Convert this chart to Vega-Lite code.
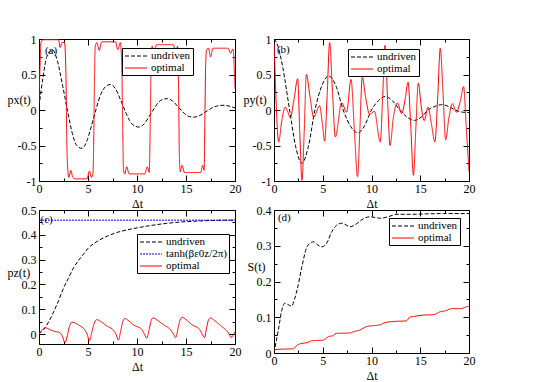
{
"$schema": "https://vega.github.io/schema/vega-lite/v6.json",
"background": "white",
"padding": {"left": 7, "top": 33, "right": 5, "bottom": 2},
"columns": 2,
"spacing": {"row": 29, "column": 39},
"bounds": "flush",
"resolve": {"scale": {"color": "independent", "strokeDash": "independent"}, "legend": {"color": "independent", "strokeDash": "independent"}},
"config": {
  "font": "Liberation Serif",
  "view": {"stroke": null},
  "axis": {"grid": false, "domainColor": "#000", "tickColor": "#000", "labelColor": "#000", "titleColor": "#000", "labelFont": "Liberation Serif", "titleFont": "Liberation Serif", "labelFontSize": 12, "titleFontSize": 12, "titleFontWeight": "normal", "domainWidth": 1, "tickWidth": 1, "labelOverlap": false, "labelFlush": false},
  "legend": {"strokeColor": "#000", "fillColor": "#fff", "padding": 2, "labelFont": "Liberation Serif", "labelFontSize": 11, "labelColor": "#000", "symbolType": "M-2,0H2", "symbolSize": 121, "symbolOffset": 6, "symbolStrokeWidth": 1, "rowPadding": 1, "labelOffset": 9, "cornerRadius": 0},
  "text": {"font": "Liberation Serif", "fontSize": 11, "color": "#000", "align": "left", "baseline": "middle"}
},
"datasets": {
"A": [
{"s":"undriven","t":0,"v":0.05},{"s":"undriven","t":0.4,"v":0.45},{"s":"undriven","t":0.8,"v":0.75},{"s":"undriven","t":1.35,"v":0.85},{"s":"undriven","t":1.9,"v":0.68},{"s":"undriven","t":2.4,"v":0.35},{"s":"undriven","t":2.9,"v":0.0},{"s":"undriven","t":3.4,"v":-0.33},{"s":"undriven","t":3.85,"v":-0.5},{"s":"undriven","t":4.35,"v":-0.54},{"s":"undriven","t":4.85,"v":-0.45},{"s":"undriven","t":5.3,"v":-0.25},{"s":"undriven","t":5.8,"v":0.0},{"s":"undriven","t":6.3,"v":0.22},{"s":"undriven","t":6.8,"v":0.33},{"s":"undriven","t":7.3,"v":0.36},{"s":"undriven","t":7.8,"v":0.3},{"s":"undriven","t":8.3,"v":0.15},{"s":"undriven","t":8.75,"v":0.0},{"s":"undriven","t":9.25,"v":-0.15},{"s":"undriven","t":9.7,"v":-0.22},{"s":"undriven","t":10.2,"v":-0.24},{"s":"undriven","t":10.7,"v":-0.2},{"s":"undriven","t":11.2,"v":-0.1},{"s":"undriven","t":11.65,"v":0.0},{"s":"undriven","t":12.15,"v":0.1},{"s":"undriven","t":12.6,"v":0.15},{"s":"undriven","t":13.1,"v":0.16},{"s":"undriven","t":13.6,"v":0.13},{"s":"undriven","t":14.1,"v":0.06},{"s":"undriven","t":14.5,"v":0.0},{"s":"undriven","t":15.0,"v":-0.07},{"s":"undriven","t":15.4,"v":-0.095},{"s":"undriven","t":15.8,"v":-0.1},{"s":"undriven","t":16.3,"v":-0.085},{"s":"undriven","t":16.8,"v":-0.045},{"s":"undriven","t":17.3,"v":0.0},{"s":"undriven","t":17.8,"v":0.04},{"s":"undriven","t":18.3,"v":0.06},{"s":"undriven","t":18.9,"v":0.067},{"s":"undriven","t":19.4,"v":0.055},{"s":"undriven","t":20,"v":0.03},
{"s":"optimal","t":0,"v":0.1},{"s":"optimal","t":0.1,"v":0.6},{"s":"optimal","t":0.2,"v":0.95},{"s":"optimal","t":0.4,"v":0.99},{"s":"optimal","t":2.0,"v":0.99},{"s":"optimal","t":2.15,"v":0.88},{"s":"optimal","t":2.35,"v":0.95},{"s":"optimal","t":2.6,"v":0.95},{"s":"optimal","t":2.75,"v":0.5},{"s":"optimal","t":2.82,"v":-0.3},{"s":"optimal","t":2.9,"v":-0.75},{"s":"optimal","t":3.05,"v":-0.95},{"s":"optimal","t":3.25,"v":-0.85},{"s":"optimal","t":3.45,"v":-0.95},{"s":"optimal","t":3.75,"v":-0.97},{"s":"optimal","t":4.9,"v":-0.97},{"s":"optimal","t":5.15,"v":-0.86},{"s":"optimal","t":5.35,"v":-0.95},{"s":"optimal","t":5.5,"v":-0.9},{"s":"optimal","t":5.6,"v":-0.3},{"s":"optimal","t":5.65,"v":0.3},{"s":"optimal","t":5.75,"v":0.9},{"s":"optimal","t":5.9,"v":0.95},{"s":"optimal","t":6.15,"v":0.84},{"s":"optimal","t":6.4,"v":0.96},{"s":"optimal","t":7.8,"v":0.96},{"s":"optimal","t":8.05,"v":0.85},{"s":"optimal","t":8.3,"v":0.95},{"s":"optimal","t":8.45,"v":0.6},{"s":"optimal","t":8.55,"v":-0.3},{"s":"optimal","t":8.62,"v":-0.85},{"s":"optimal","t":8.75,"v":-0.9},{"s":"optimal","t":8.95,"v":-0.8},{"s":"optimal","t":9.2,"v":-0.9},{"s":"optimal","t":10.8,"v":-0.9},{"s":"optimal","t":11.05,"v":-0.8},{"s":"optimal","t":11.25,"v":-0.88},{"s":"optimal","t":11.35,"v":-0.2},{"s":"optimal","t":11.45,"v":0.7},{"s":"optimal","t":11.55,"v":0.9},{"s":"optimal","t":11.75,"v":0.8},{"s":"optimal","t":12.0,"v":0.92},{"s":"optimal","t":13.7,"v":0.92},{"s":"optimal","t":13.95,"v":0.8},{"s":"optimal","t":14.15,"v":0.9},{"s":"optimal","t":14.25,"v":0.2},{"s":"optimal","t":14.32,"v":-0.6},{"s":"optimal","t":14.42,"v":-0.87},{"s":"optimal","t":14.6,"v":-0.78},{"s":"optimal","t":14.85,"v":-0.88},{"s":"optimal","t":16.5,"v":-0.88},{"s":"optimal","t":16.7,"v":-0.78},{"s":"optimal","t":16.85,"v":-0.85},{"s":"optimal","t":16.92,"v":-0.2},{"s":"optimal","t":17.0,"v":0.6},{"s":"optimal","t":17.1,"v":0.85},{"s":"optimal","t":17.3,"v":0.87},{"s":"optimal","t":17.5,"v":0.75},{"s":"optimal","t":17.75,"v":0.87},{"s":"optimal","t":19.3,"v":0.87},{"s":"optimal","t":19.55,"v":0.8},{"s":"optimal","t":19.8,"v":0.86},{"s":"optimal","t":19.95,"v":0.5},{"s":"optimal","t":20,"v":0.3}
],
"B": [
{"s":"undriven","t":0,"v":1.0},{"s":"undriven","t":0.4,"v":0.9},{"s":"undriven","t":0.9,"v":0.6},{"s":"undriven","t":1.6,"v":0.0},{"s":"undriven","t":2.2,"v":-0.5},{"s":"undriven","t":2.85,"v":-0.75},{"s":"undriven","t":3.5,"v":-0.53},{"s":"undriven","t":4.2,"v":0.0},{"s":"undriven","t":4.9,"v":0.34},{"s":"undriven","t":5.6,"v":0.48},{"s":"undriven","t":6.35,"v":0.34},{"s":"undriven","t":7.1,"v":0.0},{"s":"undriven","t":7.85,"v":-0.23},{"s":"undriven","t":8.6,"v":-0.32},{"s":"undriven","t":9.3,"v":-0.22},{"s":"undriven","t":10.0,"v":0.0},{"s":"undriven","t":10.7,"v":0.13},{"s":"undriven","t":11.4,"v":0.19},{"s":"undriven","t":12.15,"v":0.13},{"s":"undriven","t":12.9,"v":0.0},{"s":"undriven","t":13.65,"v":-0.1},{"s":"undriven","t":14.4,"v":-0.146},{"s":"undriven","t":15.1,"v":-0.1},{"s":"undriven","t":15.8,"v":0.0},{"s":"undriven","t":16.5,"v":0.05},{"s":"undriven","t":17.2,"v":0.075},{"s":"undriven","t":17.9,"v":0.05},{"s":"undriven","t":18.6,"v":0.0},{"s":"undriven","t":19.3,"v":-0.03},{"s":"undriven","t":20,"v":-0.035},
{"s":"optimal","t":0,"v":0.93},{"s":"optimal","t":0.12,"v":0.5},{"s":"optimal","t":0.25,"v":0.0},{"s":"optimal","t":0.48,"v":-0.45},{"s":"optimal","t":0.8,"v":-0.15},{"s":"optimal","t":1.15,"v":0.04},{"s":"optimal","t":1.4,"v":-0.02},{"s":"optimal","t":1.67,"v":-0.11},{"s":"optimal","t":2.05,"v":0.15},{"s":"optimal","t":2.43,"v":0.44},{"s":"optimal","t":2.65,"v":-0.35},{"s":"optimal","t":2.87,"v":-0.99},{"s":"optimal","t":3.1,"v":-0.3},{"s":"optimal","t":3.32,"v":0.5},{"s":"optimal","t":3.7,"v":0.18},{"s":"optimal","t":4.07,"v":-0.1},{"s":"optimal","t":4.68,"v":0.06},{"s":"optimal","t":4.95,"v":-0.18},{"s":"optimal","t":5.2,"v":-0.44},{"s":"optimal","t":5.45,"v":0.2},{"s":"optimal","t":5.71,"v":0.95},{"s":"optimal","t":6.0,"v":0.25},{"s":"optimal","t":6.29,"v":-0.38},{"s":"optimal","t":6.94,"v":0.1},{"s":"optimal","t":7.45,"v":-0.03},{"s":"optimal","t":7.9,"v":0.43},{"s":"optimal","t":8.25,"v":-0.3},{"s":"optimal","t":8.57,"v":-0.94},{"s":"optimal","t":8.8,"v":-0.3},{"s":"optimal","t":9.05,"v":0.46},{"s":"optimal","t":9.4,"v":0.18},{"s":"optimal","t":9.8,"v":-0.06},{"s":"optimal","t":10.3,"v":-0.02},{"s":"optimal","t":10.9,"v":-0.45},{"s":"optimal","t":11.15,"v":0.2},{"s":"optimal","t":11.38,"v":0.91},{"s":"optimal","t":11.65,"v":0.15},{"s":"optimal","t":11.9,"v":-0.5},{"s":"optimal","t":12.25,"v":-0.1},{"s":"optimal","t":12.65,"v":0.1},{"s":"optimal","t":13.1,"v":-0.05},{"s":"optimal","t":13.45,"v":0.15},{"s":"optimal","t":13.75,"v":0.39},{"s":"optimal","t":14.05,"v":-0.3},{"s":"optimal","t":14.3,"v":-0.92},{"s":"optimal","t":14.55,"v":-0.25},{"s":"optimal","t":14.8,"v":0.38},{"s":"optimal","t":15.1,"v":0.05},{"s":"optimal","t":15.4,"v":-0.15},{"s":"optimal","t":15.8,"v":0.04},{"s":"optimal","t":16.15,"v":-0.2},{"s":"optimal","t":16.5,"v":-0.45},{"s":"optimal","t":16.8,"v":0.2},{"s":"optimal","t":17.05,"v":0.87},{"s":"optimal","t":17.35,"v":0.2},{"s":"optimal","t":17.6,"v":-0.42},{"s":"optimal","t":17.95,"v":-0.1},{"s":"optimal","t":18.3,"v":0.09},{"s":"optimal","t":18.7,"v":-0.03},{"s":"optimal","t":19.1,"v":0.12},{"s":"optimal","t":19.45,"v":0.33},{"s":"optimal","t":19.7,"v":-0.2},{"s":"optimal","t":20,"v":-0.87}
],
"C": [
{"s":"undriven","t":0,"v":0},{"s":"undriven","t":0.5,"v":0.02},{"s":"undriven","t":1.0,"v":0.05},{"s":"undriven","t":1.5,"v":0.09},{"s":"undriven","t":2.0,"v":0.135},{"s":"undriven","t":2.5,"v":0.185},{"s":"undriven","t":3.0,"v":0.225},{"s":"undriven","t":3.5,"v":0.265},{"s":"undriven","t":4.0,"v":0.295},{"s":"undriven","t":4.5,"v":0.32},{"s":"undriven","t":5.0,"v":0.345},{"s":"undriven","t":6.0,"v":0.375},{"s":"undriven","t":7.0,"v":0.395},{"s":"undriven","t":8.0,"v":0.41},{"s":"undriven","t":9.0,"v":0.42},{"s":"undriven","t":10.0,"v":0.428},{"s":"undriven","t":11.0,"v":0.435},{"s":"undriven","t":12.0,"v":0.441},{"s":"undriven","t":13.0,"v":0.446},{"s":"undriven","t":14.0,"v":0.45},{"s":"undriven","t":15.0,"v":0.453},{"s":"undriven","t":16.0,"v":0.455},{"s":"undriven","t":17.0,"v":0.457},{"s":"undriven","t":18.0,"v":0.458},{"s":"undriven","t":19.0,"v":0.459},{"s":"undriven","t":20.0,"v":0.459},
{"s":"tanh(βε0z/2π)","t":0,"v":0.459},{"s":"tanh(βε0z/2π)","t":20,"v":0.459},
{"s":"optimal","t":0,"v":0.0},{"s":"optimal","t":0.35,"v":0.018},{"s":"optimal","t":0.7,"v":0.025},{"s":"optimal","t":1.1,"v":0.018},{"s":"optimal","t":1.5,"v":0.012},{"s":"optimal","t":2.1,"v":0.006},{"s":"optimal","t":2.4,"v":-0.01},{"s":"optimal","t":2.65,"v":-0.035},{"s":"optimal","t":2.9,"v":-0.005},{"s":"optimal","t":3.1,"v":0.03},{"s":"optimal","t":3.35,"v":0.048},{"s":"optimal","t":3.8,"v":0.042},{"s":"optimal","t":4.2,"v":0.033},{"s":"optimal","t":4.7,"v":0.015},{"s":"optimal","t":4.95,"v":-0.005},{"s":"optimal","t":5.13,"v":-0.028},{"s":"optimal","t":5.4,"v":0.01},{"s":"optimal","t":5.65,"v":0.045},{"s":"optimal","t":5.9,"v":0.058},{"s":"optimal","t":6.4,"v":0.048},{"s":"optimal","t":6.9,"v":0.033},{"s":"optimal","t":7.6,"v":0.015},{"s":"optimal","t":7.85,"v":0.0},{"s":"optimal","t":8.1,"v":-0.024},{"s":"optimal","t":8.35,"v":0.015},{"s":"optimal","t":8.55,"v":0.05},{"s":"optimal","t":8.75,"v":0.063},{"s":"optimal","t":9.1,"v":0.055},{"s":"optimal","t":9.6,"v":0.038},{"s":"optimal","t":10.5,"v":0.018},{"s":"optimal","t":10.75,"v":0.0},{"s":"optimal","t":11.0,"v":-0.016},{"s":"optimal","t":11.25,"v":0.02},{"s":"optimal","t":11.45,"v":0.055},{"s":"optimal","t":11.65,"v":0.065},{"s":"optimal","t":12.1,"v":0.055},{"s":"optimal","t":12.7,"v":0.038},{"s":"optimal","t":13.4,"v":0.018},{"s":"optimal","t":13.7,"v":0.002},{"s":"optimal","t":13.95,"v":-0.014},{"s":"optimal","t":14.2,"v":0.025},{"s":"optimal","t":14.4,"v":0.058},{"s":"optimal","t":14.6,"v":0.068},{"s":"optimal","t":15.0,"v":0.058},{"s":"optimal","t":15.6,"v":0.038},{"s":"optimal","t":16.4,"v":0.018},{"s":"optimal","t":16.65,"v":0.0},{"s":"optimal","t":16.9,"v":-0.014},{"s":"optimal","t":17.1,"v":0.025},{"s":"optimal","t":17.3,"v":0.057},{"s":"optimal","t":17.5,"v":0.065},{"s":"optimal","t":17.9,"v":0.055},{"s":"optimal","t":18.5,"v":0.035},{"s":"optimal","t":19.1,"v":0.015},{"s":"optimal","t":19.4,"v":0.0},{"s":"optimal","t":19.6,"v":-0.014},{"s":"optimal","t":19.8,"v":-0.005},{"s":"optimal","t":20,"v":0.01}
],
"D": [
{"s":"undriven","t":0,"v":0},{"s":"undriven","t":0.2,"v":0.03},{"s":"undriven","t":0.45,"v":0.065},{"s":"undriven","t":0.8,"v":0.12},{"s":"undriven","t":1.1,"v":0.139},{"s":"undriven","t":1.4,"v":0.136},{"s":"undriven","t":1.8,"v":0.131},{"s":"undriven","t":2.1,"v":0.15},{"s":"undriven","t":2.4,"v":0.18},{"s":"undriven","t":2.85,"v":0.24},{"s":"undriven","t":3.35,"v":0.295},{"s":"undriven","t":3.7,"v":0.307},{"s":"undriven","t":4.05,"v":0.311},{"s":"undriven","t":4.5,"v":0.302},{"s":"undriven","t":4.9,"v":0.297},{"s":"undriven","t":5.4,"v":0.307},{"s":"undriven","t":5.9,"v":0.338},{"s":"undriven","t":6.4,"v":0.357},{"s":"undriven","t":6.95,"v":0.363},{"s":"undriven","t":7.4,"v":0.358},{"s":"undriven","t":7.8,"v":0.353},{"s":"undriven","t":8.5,"v":0.362},{"s":"undriven","t":9.2,"v":0.376},{"s":"undriven","t":9.85,"v":0.381},{"s":"undriven","t":10.4,"v":0.379},{"s":"undriven","t":10.9,"v":0.377},{"s":"undriven","t":11.7,"v":0.381},{"s":"undriven","t":12.6,"v":0.388},{"s":"undriven","t":14.0,"v":0.388},{"s":"undriven","t":15.5,"v":0.389},{"s":"undriven","t":17.4,"v":0.39},{"s":"undriven","t":20,"v":0.39},
{"s":"optimal","t":0,"v":0.008},{"s":"optimal","t":0.3,"v":0.01},{"s":"optimal","t":2.0,"v":0.012},{"s":"optimal","t":2.3,"v":0.02},{"s":"optimal","t":2.6,"v":0.025},{"s":"optimal","t":3.5,"v":0.03},{"s":"optimal","t":3.8,"v":0.034},{"s":"optimal","t":5.0,"v":0.036},{"s":"optimal","t":5.3,"v":0.04},{"s":"optimal","t":5.6,"v":0.046},{"s":"optimal","t":6.0,"v":0.048},{"s":"optimal","t":6.4,"v":0.055},{"s":"optimal","t":7.8,"v":0.056},{"s":"optimal","t":8.2,"v":0.06},{"s":"optimal","t":8.8,"v":0.064},{"s":"optimal","t":9.2,"v":0.07},{"s":"optimal","t":9.5,"v":0.074},{"s":"optimal","t":10.9,"v":0.079},{"s":"optimal","t":11.2,"v":0.083},{"s":"optimal","t":11.4,"v":0.085},{"s":"optimal","t":12.2,"v":0.088},{"s":"optimal","t":13.6,"v":0.09},{"s":"optimal","t":13.9,"v":0.1},{"s":"optimal","t":14.3,"v":0.102},{"s":"optimal","t":15.3,"v":0.106},{"s":"optimal","t":16.3,"v":0.107},{"s":"optimal","t":16.8,"v":0.112},{"s":"optimal","t":17.0,"v":0.115},{"s":"optimal","t":17.6,"v":0.118},{"s":"optimal","t":18.2,"v":0.124},{"s":"optimal","t":19.2,"v":0.124},{"s":"optimal","t":19.6,"v":0.128},{"s":"optimal","t":20,"v":0.131}
]
},
"concat": [
{
 "width": 196, "height": 142,
 "data": {"name": "A"},
 "layer": [
  {"mark": {"type": "line", "interpolate": "monotone", "strokeWidth": 1, "clip": true},
   "encoding": {
    "x": {"field": "t", "type": "quantitative", "scale": {"domain": [0, 20], "nice": false, "zero": false},
      "axis": {"orient": "bottom", "values": [0,2.5,5,7.5,10,12.5,15,17.5,20], "labelExpr": "datum.value % 5 === 0 ? '' + datum.value : ''", "tickSize": {"condition": {"test": "datum.value % 5 === 0", "value": -6}, "value": -3}, "labelPadding": 8, "title": "Δt", "titlePadding": 1}},
    "y": {"field": "v", "type": "quantitative", "scale": {"domain": [-1, 1], "nice": false, "zero": false},
      "axis": {"orient": "left", "values": [-1,-0.75,-0.5,-0.25,0,0.25,0.5,0.75,1], "labelExpr": "datum.value % 0.5 === 0 ? '' + datum.value : ''", "tickSize": {"condition": {"test": "datum.value % 0.5 === 0", "value": -6}, "value": -3}, "labelPadding": 9, "title": "px(t)", "titleAngle": 0, "titleAlign": "left", "titleBaseline": "middle", "titleX": -32, "titleY": 60}},
    "color": {"field": "s", "type": "nominal", "scale": {"domain": ["undriven", "optimal"], "range": ["#000000", "#ff0000"]}, "legend": {"title": null, "orient": "none", "legendX": 83, "legendY": 9}},
    "strokeDash": {"field": "s", "type": "nominal", "scale": {"domain": ["undriven", "optimal"], "range": [[4, 2], [1, 0]]}, "legend": {"title": null, "orient": "none", "legendX": 83, "legendY": 9}}
   }},
  {"mark": {"type": "point", "opacity": 0},
   "encoding": {
    "x": {"field": "t", "type": "quantitative", "axis": {"orient": "top", "values": [0,2.5,5,7.5,10,12.5,15,17.5,20], "labels": false, "title": null, "tickSize": {"condition": {"test": "datum.value % 5 === 0", "value": -6}, "value": -3}}},
    "y": {"field": "v", "type": "quantitative", "axis": {"orient": "right", "values": [-1,-0.75,-0.5,-0.25,0,0.25,0.5,0.75,1], "labels": false, "title": null, "tickSize": {"condition": {"test": "datum.value % 0.5 === 0", "value": -6}, "value": -3}}}
   }},
  {"data": {"values": [{"label": "(a)"}]},
   "mark": {"type": "text"},
   "encoding": {"text": {"field": "label"}, "x": {"datum": 0.6, "type": "quantitative", "axis": null}, "y": {"datum": 0.83, "type": "quantitative", "axis": null}}}
 ],
 "resolve": {"axis": {"x": "independent", "y": "independent"}}
},
{
 "width": 195, "height": 142,
 "data": {"name": "B"},
 "layer": [
  {"mark": {"type": "line", "interpolate": "monotone", "strokeWidth": 1, "clip": true},
   "encoding": {
    "x": {"field": "t", "type": "quantitative", "scale": {"domain": [0, 20], "nice": false, "zero": false},
      "axis": {"orient": "bottom", "values": [0,2.5,5,7.5,10,12.5,15,17.5,20], "labelExpr": "datum.value % 5 === 0 ? '' + datum.value : ''", "tickSize": {"condition": {"test": "datum.value % 5 === 0", "value": -6}, "value": -3}, "labelPadding": 8, "title": "Δt", "titlePadding": 1}},
    "y": {"field": "v", "type": "quantitative", "scale": {"domain": [-1, 1], "nice": false, "zero": false},
      "axis": {"orient": "left", "values": [-1,-0.75,-0.5,-0.25,0,0.25,0.5,0.75,1], "labelExpr": "datum.value % 0.5 === 0 ? '' + datum.value : ''", "tickSize": {"condition": {"test": "datum.value % 0.5 === 0", "value": -6}, "value": -3}, "labelPadding": 9, "title": "py(t)", "titleAngle": 0, "titleAlign": "left", "titleBaseline": "middle", "titleX": -31, "titleY": 60}},
    "color": {"field": "s", "type": "nominal", "scale": {"domain": ["undriven", "optimal"], "range": ["#000000", "#ff0000"]}, "legend": {"title": null, "orient": "none", "legendX": 74, "legendY": 10}},
    "strokeDash": {"field": "s", "type": "nominal", "scale": {"domain": ["undriven", "optimal"], "range": [[4, 2], [1, 0]]}, "legend": {"title": null, "orient": "none", "legendX": 74, "legendY": 10}}
   }},
  {"mark": {"type": "point", "opacity": 0},
   "encoding": {
    "x": {"field": "t", "type": "quantitative", "axis": {"orient": "top", "values": [0,2.5,5,7.5,10,12.5,15,17.5,20], "labels": false, "title": null, "tickSize": {"condition": {"test": "datum.value % 5 === 0", "value": -6}, "value": -3}}},
    "y": {"field": "v", "type": "quantitative", "axis": {"orient": "right", "values": [-1,-0.75,-0.5,-0.25,0,0.25,0.5,0.75,1], "labels": false, "title": null, "tickSize": {"condition": {"test": "datum.value % 0.5 === 0", "value": -6}, "value": -3}}}
   }},
  {"data": {"values": [{"label": "(b)"}]},
   "mark": {"type": "text"},
   "encoding": {"text": {"field": "label"}, "x": {"datum": 0.3, "type": "quantitative", "axis": null}, "y": {"datum": 0.85, "type": "quantitative", "axis": null}}}
 ],
 "resolve": {"axis": {"x": "independent", "y": "independent"}}
},
{
 "width": 196, "height": 134,
 "data": {"name": "C"},
 "layer": [
  {"mark": {"type": "line", "interpolate": "monotone", "strokeWidth": 1, "clip": true},
   "encoding": {
    "x": {"field": "t", "type": "quantitative", "scale": {"domain": [0, 20], "nice": false, "zero": false},
      "axis": {"orient": "bottom", "values": [0,2.5,5,7.5,10,12.5,15,17.5,20], "labelExpr": "datum.value % 5 === 0 ? '' + datum.value : ''", "tickSize": {"condition": {"test": "datum.value % 5 === 0", "value": -6}, "value": -3}, "labelPadding": 8, "title": "Δt", "titlePadding": 1}},
    "y": {"field": "v", "type": "quantitative", "scale": {"domain": [-0.04, 0.5], "nice": false, "zero": false},
      "axis": {"orient": "left", "values": [0,0.05,0.1,0.15,0.2,0.25,0.3,0.35,0.4,0.45,0.5], "labelExpr": "abs(datum.value*10 - round(datum.value*10)) < 0.001 ? '' + datum.value : ''", "tickSize": {"condition": {"test": "abs(datum.value*10 - round(datum.value*10)) < 0.001", "value": -6}, "value": -3}, "labelPadding": 9, "title": "pz(t)", "titleAngle": 0, "titleAlign": "left", "titleBaseline": "middle", "titleX": -32, "titleY": 62}},
    "color": {"field": "s", "type": "nominal", "scale": {"domain": ["undriven", "tanh(βε0z/2π)", "optimal"], "range": ["#000000", "#0000ff", "#ff0000"]}, "legend": {"title": null, "orient": "none", "legendX": 98, "legendY": 24}},
    "strokeDash": {"field": "s", "type": "nominal", "scale": {"domain": ["undriven", "tanh(βε0z/2π)", "optimal"], "range": [[4, 2], [2, 1], [1, 0]]}, "legend": {"title": null, "orient": "none", "legendX": 98, "legendY": 24}}
   }},
  {"mark": {"type": "point", "opacity": 0},
   "encoding": {
    "x": {"field": "t", "type": "quantitative", "axis": {"orient": "top", "values": [0,2.5,5,7.5,10,12.5,15,17.5,20], "labels": false, "title": null, "tickSize": {"condition": {"test": "datum.value % 5 === 0", "value": -6}, "value": -3}}},
    "y": {"field": "v", "type": "quantitative", "axis": {"orient": "right", "values": [0,0.05,0.1,0.15,0.2,0.25,0.3,0.35,0.4,0.45,0.5], "labels": false, "title": null, "tickSize": {"condition": {"test": "abs(datum.value*10 - round(datum.value*10)) < 0.001", "value": -6}, "value": -3}}}
   }},
  {"data": {"values": [{"label": "(c)"}]},
   "mark": {"type": "text"},
   "encoding": {"text": {"field": "label"}, "x": {"datum": 0.15, "type": "quantitative", "axis": null}, "y": {"datum": 0.46, "type": "quantitative", "axis": null}}}
 ],
 "resolve": {"axis": {"x": "independent", "y": "independent"}}
},
{
 "width": 195, "height": 143,
 "data": {"name": "D"},
 "layer": [
  {"mark": {"type": "line", "interpolate": "monotone", "strokeWidth": 1, "clip": true},
   "encoding": {
    "x": {"field": "t", "type": "quantitative", "scale": {"domain": [0, 20], "nice": false, "zero": false},
      "axis": {"orient": "bottom", "values": [0,2.5,5,7.5,10,12.5,15,17.5,20], "labelExpr": "datum.value % 5 === 0 ? '' + datum.value : ''", "tickSize": {"condition": {"test": "datum.value % 5 === 0", "value": -6}, "value": -3}, "labelPadding": 8, "title": "Δt", "titlePadding": 1}},
    "y": {"field": "v", "type": "quantitative", "scale": {"domain": [0, 0.4], "nice": false, "zero": false},
      "axis": {"orient": "left", "values": [0,0.05,0.1,0.15,0.2,0.25,0.3,0.35,0.4], "labelExpr": "abs(datum.value*10 - round(datum.value*10)) < 0.001 ? '' + datum.value : ''", "tickSize": {"condition": {"test": "abs(datum.value*10 - round(datum.value*10)) < 0.001", "value": -6}, "value": -3}, "labelPadding": 9, "title": "S(t)", "titleAngle": 0, "titleAlign": "left", "titleBaseline": "middle", "titleX": -27, "titleY": 56}},
    "color": {"field": "s", "type": "nominal", "scale": {"domain": ["undriven", "optimal"], "range": ["#000000", "#ff0000"]}, "legend": {"title": null, "orient": "none", "legendX": 115, "legendY": 8}},
    "strokeDash": {"field": "s", "type": "nominal", "scale": {"domain": ["undriven", "optimal"], "range": [[4, 2], [1, 0]]}, "legend": {"title": null, "orient": "none", "legendX": 115, "legendY": 8}}
   }},
  {"mark": {"type": "point", "opacity": 0},
   "encoding": {
    "x": {"field": "t", "type": "quantitative", "axis": {"orient": "top", "values": [0,2.5,5,7.5,10,12.5,15,17.5,20], "labels": false, "title": null, "tickSize": {"condition": {"test": "datum.value % 5 === 0", "value": -6}, "value": -3}}},
    "y": {"field": "v", "type": "quantitative", "axis": {"orient": "right", "values": [0,0.05,0.1,0.15,0.2,0.25,0.3,0.35,0.4], "labels": false, "title": null, "tickSize": {"condition": {"test": "abs(datum.value*10 - round(datum.value*10)) < 0.001", "value": -6}, "value": -3}}}
   }},
  {"data": {"values": [{"label": "(d)"}]},
   "mark": {"type": "text"},
   "encoding": {"text": {"field": "label"}, "x": {"datum": 0.4, "type": "quantitative", "axis": null}, "y": {"datum": 0.378, "type": "quantitative", "axis": null}}}
 ],
 "resolve": {"axis": {"x": "independent", "y": "independent"}}
}
]
}
